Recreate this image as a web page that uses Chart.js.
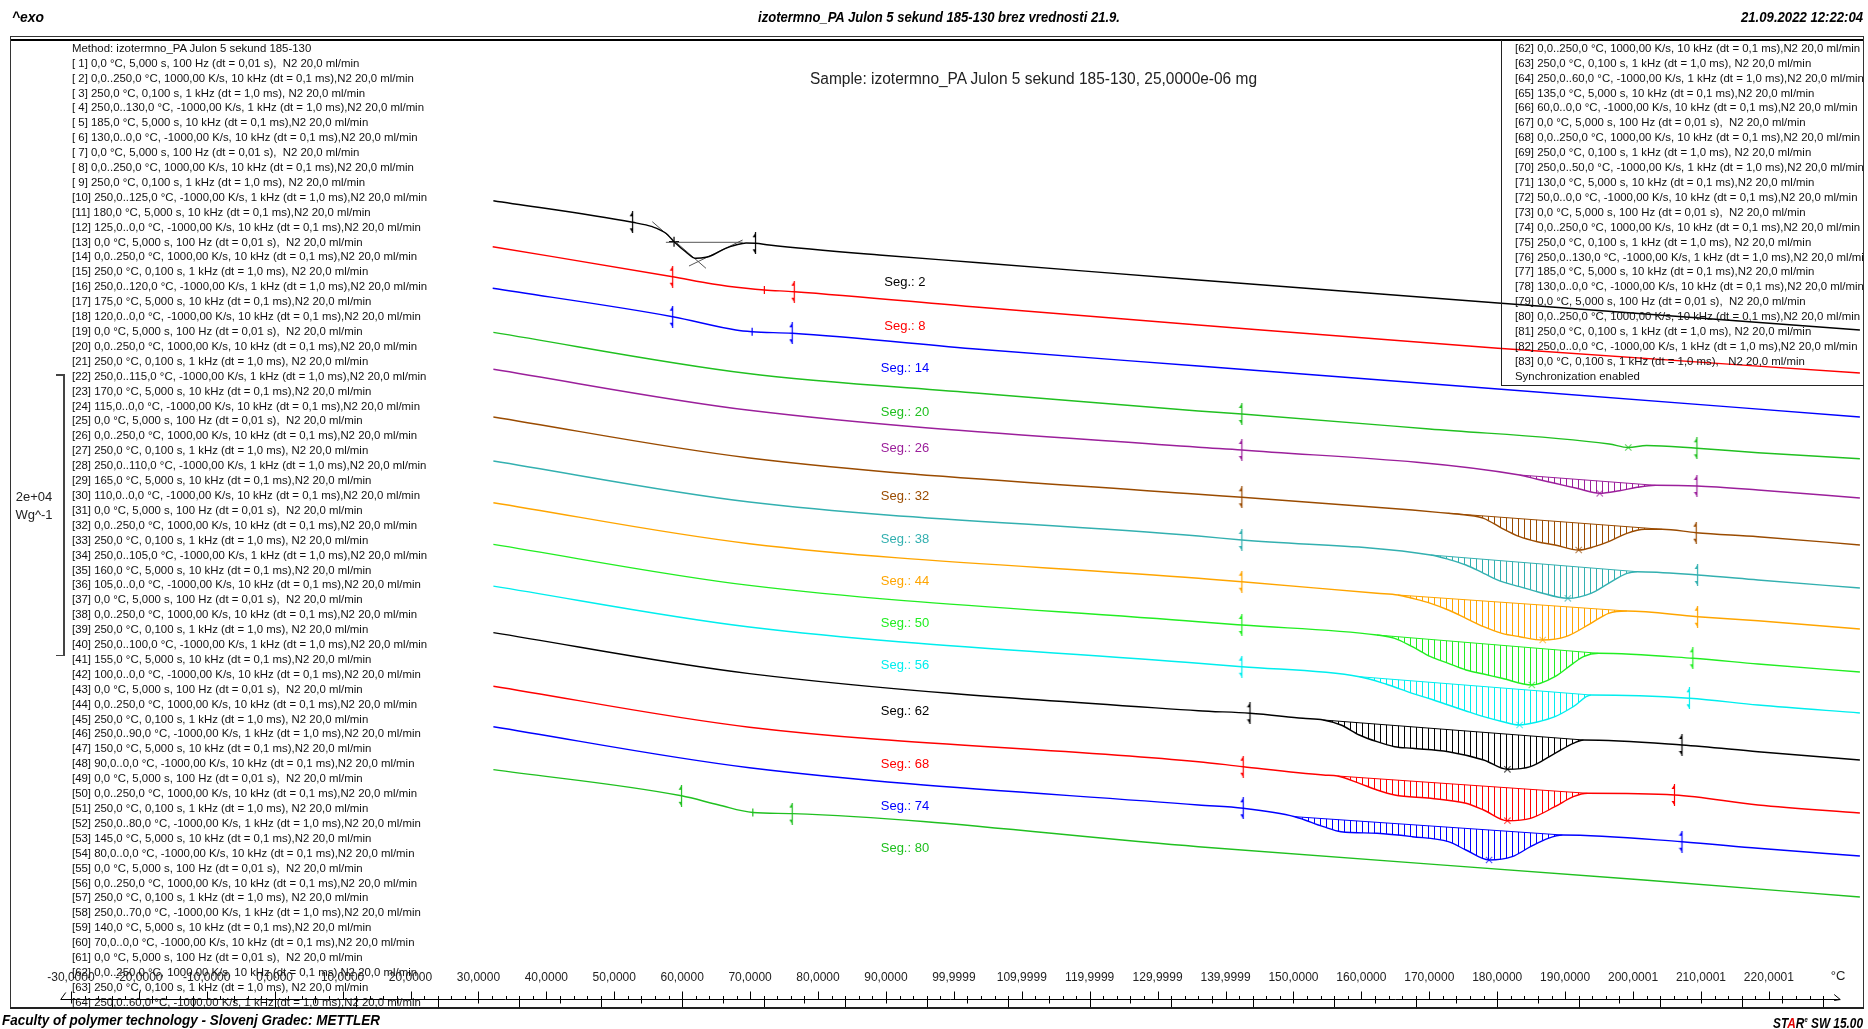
<!DOCTYPE html>
<html><head><meta charset="utf-8">
<script src="https://cdn.jsdelivr.net/npm/chart.js@4.4.1/dist/chart.umd.min.js"></script>
<style>
html,body{margin:0;padding:0;background:#fff;}
#wrap{position:relative;width:1868px;height:1029px;overflow:hidden;background:#fff;}
#c{position:absolute;left:0;top:0;}
#ov{position:absolute;left:0;top:0;width:1868px;height:1029px;pointer-events:none;}
.t{position:absolute;white-space:pre;font-family:"Liberation Sans",Arial,sans-serif;color:#000;}
.ln{position:absolute;background:#000;}
.clip{position:absolute;overflow:hidden;}
.list{position:absolute;white-space:pre;font-family:"Liberation Sans",Arial,sans-serif;font-size:11px;line-height:14.92px;color:#111;transform-origin:0 0;}
.list div{height:14.92px;}
</style></head><body>
<div id="wrap">
<canvas id="c" width="1868" height="1029"></canvas>
<div id="ov"></div>
</div>
<script>
// ---------- data (x: temperature in °C, y: heat-flow offset, exo up) ----------
const segNumbers = [2,8,14,20,26,32,38,44,50,56,62,68,74,80];
const segColors = ['#000000','#ff0000','#0000ff','#20c020','#9b1f9b','#9a4b00','#33b0b0','#ffa500','#22ee22','#00eeee','#000000','#ff0000','#0000ff','#20c020'];

const seg2  = [[32.2,764.3],[52.7,742.7],[55.6,738.3],[57.6,731.7],[58.8,723.3],[60.5,713.3],[62.0,706.7],[63.5,707.7],[64.5,710.0],[66.4,716.7],[67.9,720.0],[69.4,722.0],[70.8,721.7],[72.8,720.0],[89.0,710.0],[103.7,702.3],[136.0,685.0],[180.1,662.0],[233.4,635.0]];
const seg8  = [[32.1,718.3],[58.6,688.3],[64.5,681.0],[69.4,676.7],[72.1,675.0],[76.5,673.3],[103.7,657.7],[136.0,640.0],[180.1,616.7],[233.4,592.0]];
const seg14 = [[32.1,676.7],[58.6,648.3],[67.9,635.0],[70.3,633.3],[76.2,631.7],[103.7,615.7],[136.0,599.0],[180.1,576.0],[233.4,548.0]];
const seg20 = [[32.2,632.6],[69.4,591.7],[103.7,571.7],[136.0,554.0],[142.4,551.0],[170.0,536.0],[196.5,521.0],[199.3,517.5],[202.0,519.5],[209.4,516.7],[218.4,512.3],[233.4,506.3]];
const seg26 = [[32.2,595.7],[69.9,554.7],[136.0,517.7],[142.4,515.0],[183.3,490.0],[185.9,485.7],[188.5,481.7],[191.7,476.7],[195.1,471.7],[198.0,474.3],[200.6,477.7],[203.3,479.7],[209.4,479.0],[218.4,475.0],[233.4,467.0]];
const seg32 = [[32.2,548.0],[69.9,507.0],[136.0,470.7],[142.4,467.7],[167.5,455.0],[172.8,451.7],[175.4,450.0],[178.0,446.7],[180.7,436.7],[183.3,428.3],[185.9,423.3],[188.5,420.0],[192.0,415.0],[194.3,418.3],[196.4,423.3],[199.1,431.7],[201.7,435.7],[204.3,435.7],[209.3,432.3],[218.4,428.3],[233.4,420.0]];
const seg38 = [[32.2,504.0],[69.9,463.0],[136.0,429.0],[142.4,425.0],[170.2,410.0],[172.8,405.7],[175.4,400.0],[178.0,391.7],[180.7,383.3],[183.3,378.3],[185.9,373.3],[190.4,366.7],[193.8,371.7],[196.4,381.7],[199.1,391.7],[200.6,393.3],[209.5,390.0],[218.4,385.0],[233.4,377.0]];
const seg44 = [[32.2,462.3],[69.9,421.3],[136.0,386.7],[142.4,383.3],[162.3,371.7],[165.4,370.0],[167.5,366.7],[170.2,361.7],[172.8,355.0],[175.4,346.7],[178.0,338.3],[180.7,331.7],[183.3,328.3],[186.7,325.0],[190.1,328.3],[193.8,341.7],[196.4,351.7],[199.1,354.0],[209.5,348.3],[218.4,344.3],[233.4,336.0]];
const seg50 = [[32.2,420.6],[69.9,379.6],[136.0,343.3],[142.4,340.0],[162.3,330.0],[164.9,326.7],[167.5,318.3],[170.2,308.3],[172.8,301.7],[175.4,295.0],[178.0,291.0],[180.7,286.7],[185.1,280.0],[188.5,288.3],[191.2,301.7],[192.7,308.3],[194.9,311.7],[208.8,306.7],[218.4,301.0],[233.4,293.0]];
const seg56 = [[32.2,378.9],[69.9,338.0],[136.0,301.7],[142.4,298.3],[159.7,288.3],[163.6,281.0],[167.5,271.7],[170.2,266.0],[172.8,260.0],[175.4,254.0],[178.0,248.3],[180.7,243.5],[183.3,240.0],[185.9,243.0],[188.5,248.3],[191.2,258.3],[193.8,270.0],[208.3,266.7],[218.4,260.0],[233.4,252.0]];
const seg62 = [[32.2,332.4],[69.9,291.4],[136.0,254.3],[143.6,251.7],[151.4,246.7],[154.4,245.0],[157.0,240.0],[159.7,230.0],[162.3,223.3],[164.9,218.3],[167.5,216.7],[172.8,213.3],[178.0,205.0],[181.5,195.7],[184.9,198.3],[188.5,211.7],[191.2,221.7],[192.7,225.0],[207.2,220.0],[218.4,213.3],[233.4,205.0]];
const seg68 = [[32.2,278.8],[69.9,237.8],[136.0,203.3],[142.6,198.3],[154.4,190.0],[156.5,189.0],[159.7,181.7],[162.3,175.0],[164.9,170.0],[170.2,166.7],[175.4,161.7],[178.0,155.0],[181.5,144.3],[184.9,146.7],[188.5,158.3],[191.2,168.3],[193.3,171.7],[206.1,170.0],[218.4,160.0],[233.4,152.0]];
const seg74 = [[32.2,238.3],[69.9,197.3],[136.0,160.0],[142.6,156.7],[150.2,148.3],[154.4,138.3],[157.0,133.3],[162.3,131.7],[167.5,128.3],[172.8,123.3],[175.4,115.0],[178.8,105.0],[182.2,108.3],[184.9,118.3],[187.5,126.7],[189.6,130.0],[207.2,123.3],[218.4,116.7],[233.4,109.0]];
const seg80 = [[32.2,195.4],[59.9,169.2],[65.4,160.0],[70.4,152.5],[76.2,151.4],[136.0,118.3],[201.6,85.0],[233.4,68.0]];

// integration baselines of the crystallisation peaks (curve index, start, end)
const peakCurveIndex = [4,5,6,7,8,9,10,11,12];
const base26 = [[183.3,490.0],[203.3,479.7]];
const base32 = [[172.8,451.7],[204.3,435.7]];
const base38 = [[170.2,410.0],[200.6,393.3]];
const base44 = [[165.4,370.0],[199.1,354.0]];
const base50 = [[162.3,330.0],[194.9,311.7]];
const base56 = [[159.7,288.3],[193.8,270.0]];
const base62 = [[154.4,245.0],[192.7,225.0]];
const base68 = [[156.5,189.0],[193.3,171.7]];
const base74 = [[150.2,148.3],[189.6,130.0]];

// evaluation limits (flags), peak minima, step marks
const flagPoints = [
 [[52.7,742.7],[70.8,721.7]], [[58.6,688.3],[76.5,673.3]], [[58.6,648.3],[76.2,631.7]],
 [[142.4,551.0],[209.4,516.7]], [[142.4,515.0],[209.4,479.0]], [[142.4,467.7],[209.3,432.3]],
 [[142.4,425.0],[209.5,390.0]], [[142.4,383.3],[209.5,348.3]], [[142.4,340.0],[208.8,306.7]],
 [[142.4,298.3],[208.3,266.7]], [[143.6,251.7],[207.2,220.0]], [[142.6,198.3],[206.1,170.0]],
 [[142.6,156.7],[207.2,123.3]], [[59.9,169.2],[76.2,151.4]]];
const peakMinima = [null,null,null,[199.3,517.5],[195.1,471.7],[192.0,415.0],[190.4,366.7],[186.7,325.0],[185.1,280.0],[183.3,240.0],[181.5,195.7],[181.5,144.3],[178.8,105.0],null];
const stepMarks = [[58.8,723.3],[72.1,675.0],[70.3,633.3],null,null,null,null,null,null,null,null,null,null,[70.4,152.5]];

// glass-transition construction lines on segment 2
const tangent2a = [[55.6,743.3],[63.5,696.7]];
const tangent2h = [[57.6,722.7],[68.9,722.7]];
const tangent2b = [[61.0,699.0],[68.9,725.0]];

// x axis
const xTickValues = [-30,-20,-10,0,10,20,30,40,50,60,70,80,90,100,110,120,130,140,150,160,170,180,190,200,210,220];
const xTickLabels = ['-30,0000','-20,0000','-10,0000','0,0000','10,0000','20,0000','30,0000','40,0000','50,0000','60,0000','70,0000','80,0000','90,0000','99,9999','109,9999','119,9999','129,9999','139,9999','150,0000','160,0000','170,0000','180,0000','190,0000','200,0001','210,0001','220,0001'];
const xMin = -38.97, xMax = 233.68;
const axisFrom = -31.5, axisTo = 230.5;
const segLabelT = 92.8;

// method listing
const coolToTemps = [130,125,120,115,110,105,100,90,80,70,60,50,130];
const holdTemps   = [185,180,175,170,165,160,155,150,145,140,135,130,185];

// ---------- build ----------
const curves = [seg2,seg8,seg14,seg20,seg26,seg32,seg38,seg44,seg50,seg56,seg62,seg68,seg74,seg80];
const bases = [base26,base32,base38,base44,base50,base56,base62,base68,base74];
const canvas = document.getElementById('c');
const ctx = canvas.getContext('2d');
const toXY = a => a.map(p => ({x:p[0], y:p[1]}));

function hatch(color){
  const c = document.createElement('canvas'); c.width = 6; c.height = 4;
  const g = c.getContext('2d'); g.fillStyle = color; g.fillRect(0,0,1,4);
  return ctx.createPattern(c,'repeat');
}
function flagImg(color){
  const c = document.createElement('canvas'); c.width = 7; c.height = 22;
  const g = c.getContext('2d'); g.strokeStyle = color; g.fillStyle = color; g.lineWidth = 1.2;
  g.beginPath(); g.moveTo(3.5,0); g.lineTo(3.5,22); g.stroke();
  g.beginPath(); g.moveTo(3.5,0.5); g.lineTo(0.5,5); g.lineTo(3.5,5); g.closePath(); g.fill();
  g.beginPath(); g.moveTo(3.5,21.5); g.lineTo(0.5,17); g.lineTo(3.5,17); g.closePath(); g.fill();
  return c;
}
function fade(hex, a){
  const n = parseInt(hex.slice(1),16);
  return `rgba(${(n>>16)&255},${(n>>8)&255},${n&255},${a})`;
}

const datasets = [];
curves.forEach((c,i) => datasets.push({label:'Seg.: '+segNumbers[i], data:toXY(c), borderColor:segColors[i], borderWidth:1.4, pointRadius:0, fill:false, cubicInterpolationMode:'monotone'}));
bases.forEach((b,k) => {
  const ci = peakCurveIndex[k];
  datasets.push({data:toXY(b), borderColor:segColors[ci], borderWidth:1, pointRadius:0, backgroundColor:hatch(segColors[ci]), fill:ci, tension:0});
});
[tangent2a, tangent2h, tangent2b].forEach(t => datasets.push({data:toXY(t), borderColor:'#555', borderWidth:1, pointRadius:0, fill:false}));
flagPoints.forEach((f,i) => datasets.push({data:toXY(f), showLine:false, pointStyle:flagImg(segColors[i]), pointRadius:5, fill:false}));
peakMinima.forEach((m,i) => { if (m) datasets.push({data:toXY([m]), showLine:false, pointStyle:'crossRot', pointRadius:4.5, pointBorderWidth:1.2, pointBorderColor:fade(segColors[i],0.65), fill:false}); });
stepMarks.forEach((m,i) => { if (m) datasets.push({data:toXY([m]), showLine:false, pointStyle: i===0 ? 'cross' : 'line', pointRotation: i===0 ? 0 : 90, pointRadius: i===0 ? 5 : 4, pointBorderWidth:1.2, pointBorderColor:segColors[i], fill:false}); });

const axisPlugin = {
  id:'axisTicks',
  afterDraw(chart){
    const xs = chart.scales.x, g = chart.ctx;
    const y0 = chart.chartArea.bottom + 34.5;
    const yb = chart.chartArea.bottom + 43;
    g.save(); g.strokeStyle = '#000'; g.lineWidth = 1;
    const xa = xs.getPixelForValue(axisFrom), xb = xs.getPixelForValue(axisTo);
    g.beginPath(); g.moveTo(xa, y0); g.lineTo(xb, y0); g.stroke();
    g.beginPath();
    for (let t = -30; t <= 228; t += 2){ const p = Math.round(xs.getPixelForValue(t))+0.5; g.moveTo(p,y0); g.lineTo(p,y0-3.5); }
    xTickValues.forEach(t => { const p = Math.round(xs.getPixelForValue(t))+0.5; g.moveTo(p,y0); g.lineTo(p,y0-8); });
    for (let t = -30; t <= 228; t += 6){ const p = Math.round(xs.getPixelForValue(t))+0.5; g.moveTo(p,y0); g.lineTo(p, t % 12 === 0 ? yb : y0+4); }
    g.moveTo(xb-6,y0-5); g.lineTo(xb,y0); g.lineTo(xb-6,y0+1);
    g.moveTo(xa,y0); g.lineTo(xa+5,y0-7);
    g.stroke();
    g.restore();
  }
};

Chart.defaults.font.family = '"Liberation Sans", Arial, sans-serif';
const chart = new Chart(ctx, {
  type:'line',
  data:{datasets},
  options:{
    responsive:false, animation:false, devicePixelRatio:1,
    layout:{padding:{left:10, right:4, top:37, bottom:0}},
    plugins:{legend:{display:false}, tooltip:{enabled:false}},
    scales:{
      x:{type:'linear', min:xMin, max:xMax, position:'bottom',
         grid:{display:false, drawTicks:false, tickLength:0}, border:{display:false},
         afterBuildTicks: s => { s.ticks = xTickValues.map(v => ({value:v})); },
         afterFit: s => { s.height = 64; },
         ticks:{autoSkip:false, maxRotation:0, minRotation:0, padding:5, color:'#222', font:{size:12}, callback:(v,i) => xTickLabels[i]}},
      y:{type:'linear', display:false, min:0, max:928}
    }
  },
  plugins:[axisPlugin]
});

// ---------- overlay text & frame ----------
const ov = document.getElementById('ov');
function line(x,y,w,h,c){ const d = document.createElement('div'); d.className='ln'; Object.assign(d.style,{left:x+'px',top:y+'px',width:w+'px',height:h+'px',background:c||'#000'}); ov.appendChild(d); }
function place(html, o){
  const d = document.createElement('div'); d.className='t'; d.innerHTML = html;
  d.style.font = o.font; d.style.color = o.color || '#000'; d.style.lineHeight = o.lh+'px';
  ov.appendChild(d);
  const w = d.getBoundingClientRect().width;
  const sx = o.w ? o.w / w : 1; const fw = w*sx;
  let left = o.x; if (o.align==='center') left = o.x - fw/2; else if (o.align==='right') left = o.x - fw;
  d.style.left = left+'px'; d.style.top = (o.y - o.lh/2)+'px';
  d.style.transformOrigin = '0 0'; d.style.transform = `scaleX(${sx})`;
  return d;
}

// frame
line(10,36,1854,1,'#333'); line(10,39,1854,2,'#000');
line(10,37,1,971,'#333'); line(1863,37,1,971,'#333');
line(10,1007,1854,2,'#222');
// right listing box
line(1501,40,1,345,'#222'); line(1501,385,363,1,'#222');
// scale bar bracket
line(63,374,1.5,282,'#444'); line(56,374,8,1.5,'#444'); line(56,654.5,8,1.5,'#444');

const BI = 'italic bold 14px "Liberation Sans", Arial, sans-serif';
place('^exo', {x:12, y:17, w:32, font:BI, lh:16});
place('izotermno_PA Julon 5 sekund 185-130 brez vrednosti 21.9.', {x:939, y:17, w:362, align:'center', font:BI, lh:16});
place('21.09.2022 12:22:04', {x:1863, y:17, w:122, align:'right', font:BI, lh:16});
place('Faculty of polymer technology - Slovenj Gradec: METTLER', {x:2, y:1020, w:378, font:BI, lh:16});
place('ST<span style="color:#e00000">A</span>R<sup style="font-size:7px">e</sup> SW 15.00', {x:1863, y:1020, w:90, align:'right', font:BI, lh:16});
place('Sample: izotermno_PA Julon 5 sekund 185-130, 25,0000e-06 mg', {x:1033, y:79, w:447, align:'center', font:'16px "Liberation Sans", Arial, sans-serif', color:'#222', lh:18});
place('2e+04', {x:34, y:497, align:'center', font:'13px "Liberation Sans", Arial, sans-serif', color:'#222', lh:16});
place('Wg^-1', {x:34, y:515, align:'center', font:'13px "Liberation Sans", Arial, sans-serif', color:'#222', lh:16});
place('°C', {x:1838, y:976, align:'center', font:'13px "Liberation Sans", Arial, sans-serif', color:'#222', lh:16});

// method listing
function methodLines(){
  const L = [];
  const A = '0,0 °C, 5,000 s, 100 Hz (dt = 0,01 s),  N2 20,0 ml/min';
  const B = '0,0..250,0 °C, 1000,00 K/s, 10 kHz (dt = 0,1 ms),N2 20,0 ml/min';
  const C = '250,0 °C, 0,100 s, 1 kHz (dt = 1,0 ms), N2 20,0 ml/min';
  for (let k = 0; k < coolToTemps.length; k++){
    L.push(A, B, C,
      `250,0..${coolToTemps[k]},0 °C, -1000,00 K/s, 1 kHz (dt = 1,0 ms),N2 20,0 ml/min`,
      `${holdTemps[k]},0 °C, 5,000 s, 10 kHz (dt = 0,1 ms),N2 20,0 ml/min`,
      `${coolToTemps[k]},0..0,0 °C, -1000,00 K/s, 10 kHz (dt = 0,1 ms),N2 20,0 ml/min`);
  }
  L.push(A, B, C, '250,0..0,0 °C, -1000,00 K/s, 1 kHz (dt = 1,0 ms),N2 20,0 ml/min', '0,0 °C, 0,100 s, 1 kHz (dt = 1,0 ms),   N2 20,0 ml/min');
  return L.map((s,i) => `[${String(i+1).padStart(2,' ')}] ${s}`);
}
const mLines = methodLines();
function buildList(parent, rows, left, top){
  const inner = document.createElement('div'); inner.className = 'list';
  inner.style.left = left+'px'; inner.style.top = top+'px';
  rows.forEach(r => { const d = document.createElement('div'); const s = document.createElement('span'); s.textContent = r; d.appendChild(s); inner.appendChild(d); });
  parent.appendChild(inner); return inner;
}
const leftClip = document.createElement('div'); leftClip.className = 'clip';
Object.assign(leftClip.style, {left:'0px', top:'0px', width:'560px', height:'1009px'}); ov.appendChild(leftClip);
const leftList = buildList(leftClip, ['Method: izotermno_PA Julon 5 sekund 185-130'].concat(mLines.slice(0,64)), 72, 40.8);
const refW = leftList.children[4].firstChild.getBoundingClientRect().width;
const sxList = 352 / refW;
leftList.style.transform = `scaleX(${sxList})`;

const rightClip = document.createElement('div'); rightClip.className = 'clip';
Object.assign(rightClip.style, {left:'1502px', top:'41px', width:'361px', height:'344px'}); ov.appendChild(rightClip);
const rightList = buildList(rightClip, mLines.slice(60).concat(['Synchronization enabled']), 13, 48.3 - 14.92 - 7.46 - 41);
rightList.style.transform = `scaleX(${sxList})`;

// segment labels, positioned through the chart scales
function interpY(pts, T){
  for (let i = 0; i < pts.length-1; i++){
    const a = pts[i], b = pts[i+1];
    if (T >= a[0] && T <= b[0]) return a[1] + (b[1]-a[1])*(T-a[0])/(b[0]-a[0]);
  }
  return pts[pts.length-1][1];
}
const xs = chart.scales.x, ys = chart.scales.y;
curves.forEach((c,i) => {
  const px = xs.getPixelForValue(segLabelT);
  const py = ys.getPixelForValue(interpY(c, segLabelT)) + 25;
  place('Seg.: '+segNumbers[i], {x:px, y:py, align:'center', font:'13px "Liberation Sans", Arial, sans-serif', color:segColors[i], lh:16});
});
</script>
</body></html>
